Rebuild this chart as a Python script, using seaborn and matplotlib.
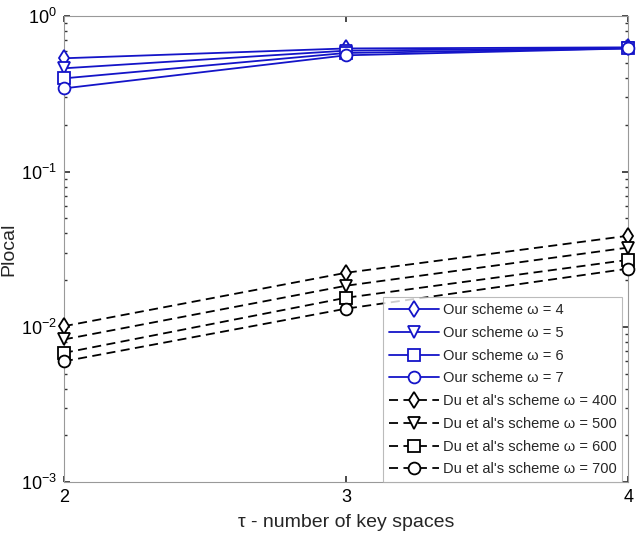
import matplotlib
matplotlib.use("Agg")
import matplotlib.pyplot as plt
import seaborn as sns
import pandas as pd
import numpy as np

tau = [2, 3, 4]

our_omegas = [4, 5, 6, 7]
our_w4 = [0.536, 0.62, 0.63]
our_w5 = [0.462, 0.60, 0.625]
our_w6 = [0.398, 0.58, 0.62]
our_w7 = [0.343, 0.56, 0.62]

du_omegas = [400, 500, 600, 700]
du_w400 = [0.0101, 0.0223, 0.0386]
du_w500 = [0.0083, 0.0184, 0.0324]
du_w600 = [0.0068, 0.0154, 0.0270]
du_w700 = [0.0060, 0.0131, 0.0237]

our_vals = [our_w4, our_w5, our_w6, our_w7]
du_vals = [du_w400, du_w500, du_w600, du_w700]

rows = []
for om, v in zip(our_omegas, our_vals):
    for t, y in zip(tau, v):
        rows.append({"tau": t, "p": y, "series": f"Our scheme \u03c9 = {om}"})
for om, v in zip(du_omegas, du_vals):
    for t, y in zip(tau, v):
        rows.append({"tau": t, "p": y, "series": f"Du et al's scheme \u03c9 = {om}"})
df = pd.DataFrame(rows)

sns.set_theme(style="white")
plt.rcParams['font.family'] = ['Liberation Sans', 'DejaVu Sans']

fig = plt.figure(figsize=(6.39, 5.4), dpi=100)
ax = fig.add_axes([0.100, 0.107, 0.883, 0.863])

markers = ['d', 'v', 's', 'o']
blue = '#1414c8'
series_names = list(dict.fromkeys(df["series"]))
for i, name in enumerate(series_names):
    sub = df[df["series"] == name]
    is_our = i < 4
    col = blue if is_our else 'black'
    sns.lineplot(data=sub, x="tau", y="p", ax=ax, label=name,
                 color=col, linestyle='-' if is_our else (0, (5, 3)),
                 linewidth=1.3, marker=markers[i % 4], markersize=8.5,
                 markerfacecolor='white', markeredgecolor=col,
                 markeredgewidth=1.3, clip_on=False, zorder=3)

ax.set_yscale('log')
ax.set_ylim(1e-3, 1)
ax.set_xlim(2, 4)
ax.set_xticks([2, 3, 4])
ax.set_xticklabels(['2', '3', '4'])
ax.tick_params(axis='both', which='both', direction='in', labelsize=13,
               colors='#333333', length=4, pad=5)
ax.tick_params(axis='y', which='minor', length=2)
ax.yaxis.set_ticks_position('both')
ax.xaxis.set_ticks_position('both')
ax.tick_params(axis='both', labelcolor='black')
for s in ax.spines.values():
    s.set_color('#999999')
    s.set_linewidth(0.8)

ax.set_xlabel("\u03c4 - number of key spaces", fontsize=14, labelpad=6)
ax.set_ylabel("Plocal", fontsize=14)
ax.yaxis.set_label_coords(-0.083, 0.5)

leg = ax.legend(loc='lower right', fontsize=10.5, frameon=True, fancybox=False,
                edgecolor='#aaaaaa', borderpad=0.4, labelspacing=0.6,
                handlelength=3.4, handletextpad=0.3, borderaxespad=0.0,
                bbox_to_anchor=(0.99, 0.0))
leg.get_frame().set_linewidth(0.8)
leg.set_zorder(5)

fig.savefig("out.png", dpi=100)
